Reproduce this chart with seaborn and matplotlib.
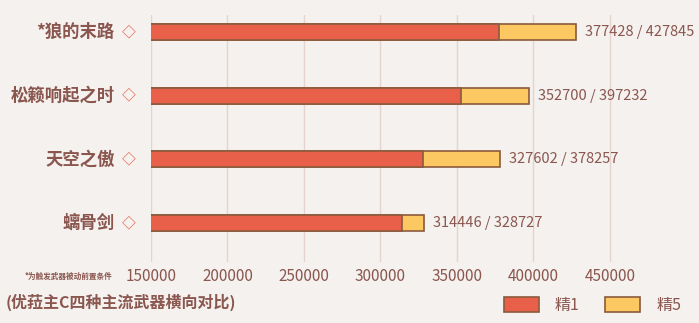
import matplotlib
matplotlib.use("Agg")
import matplotlib.pyplot as plt
import matplotlib.patches as mpatches
import pandas as pd
import seaborn as sns

sns.set_theme(style="white")
plt.rcParams["font.family"] = ["Noto Sans CJK SC", "DejaVu Sans"]

# data
weapons = ["*狼的末路", "松籁响起之时", "天空之傲", "螭骨剑"]
r1 = [377428, 352700, 327602, 314446]
r5 = [427845, 397232, 378257, 328727]
xticks = [150000, 200000, 250000, 300000, 350000, 400000, 450000]

df = pd.DataFrame({"weapon": weapons, "r1": r1, "r5": r5})

bg = "#f4f1ef"
brown = "#8a564e"
red = "#e8604a"
yellow = "#fcc862"
edge = "#8b5a3c"

fig = plt.figure(figsize=(6.99, 3.23), dpi=100, facecolor=bg)
ax = fig.add_axes([0.216, 0.189, 0.722, 0.765])
ax.set_facecolor(bg)

sns.barplot(data=df, y="weapon", x="r5", color=yellow, edgecolor=edge,
            linewidth=1.2, width=0.25, ax=ax, saturation=1)
sns.barplot(data=df, y="weapon", x="r1", color=red, edgecolor=edge,
            linewidth=1.2, width=0.25, ax=ax, saturation=1)

ax.set_xlim(150000, 480000)
ax.set_ylim(3.61, -0.27)
ax.set_xticks(xticks)
ax.set_xticklabels([str(t) for t in xticks], color=brown, fontsize=11)
ax.tick_params(axis="x", length=0, pad=4)
ax.set_yticks([])
ax.set_xlabel("")
ax.set_ylabel("")
for s in ax.spines.values():
    s.set_visible(False)
for t in xticks:
    ax.axvline(t, color="#e6d3cf", lw=1, zorder=0)

for i, (w, a, b) in enumerate(zip(weapons, r1, r5)):
    ax.text(-0.072, i, w, transform=ax.get_yaxis_transform(), ha="right",
            va="center", fontsize=12.5, fontweight="bold", color=brown)
    ax.text(-0.045, i, "◇", transform=ax.get_yaxis_transform(), ha="center",
            va="center", fontsize=10, fontweight="bold", color=red)
    ax.text(b + 6000, i, f"{a} / {b}", ha="left", va="center",
            fontsize=10.5, color=brown)

fig.text(0.035, 0.145, "*为触发武器被动前置条件", fontsize=5.5, color=brown,
         fontweight="bold", va="center")
fig.text(0.008, 0.065, "(优菈主C四种主流武器横向对比)", fontsize=11.5,
         color=brown, fontweight="bold", va="center")

handles = [mpatches.Patch(facecolor=red, edgecolor=edge, lw=1.2),
           mpatches.Patch(facecolor=yellow, edgecolor=edge, lw=1.2)]
leg = fig.legend(handles, ["精1", "精5"], ncol=2, loc="center right",
                 bbox_to_anchor=(0.995, 0.055), frameon=False, fontsize=11.5,
                 handlelength=2.2, handleheight=1.1, columnspacing=1.6,
                 handletextpad=1.0)
for t in leg.get_texts():
    t.set_color(brown)

fig.savefig("out.png", dpi=100, facecolor=bg)
